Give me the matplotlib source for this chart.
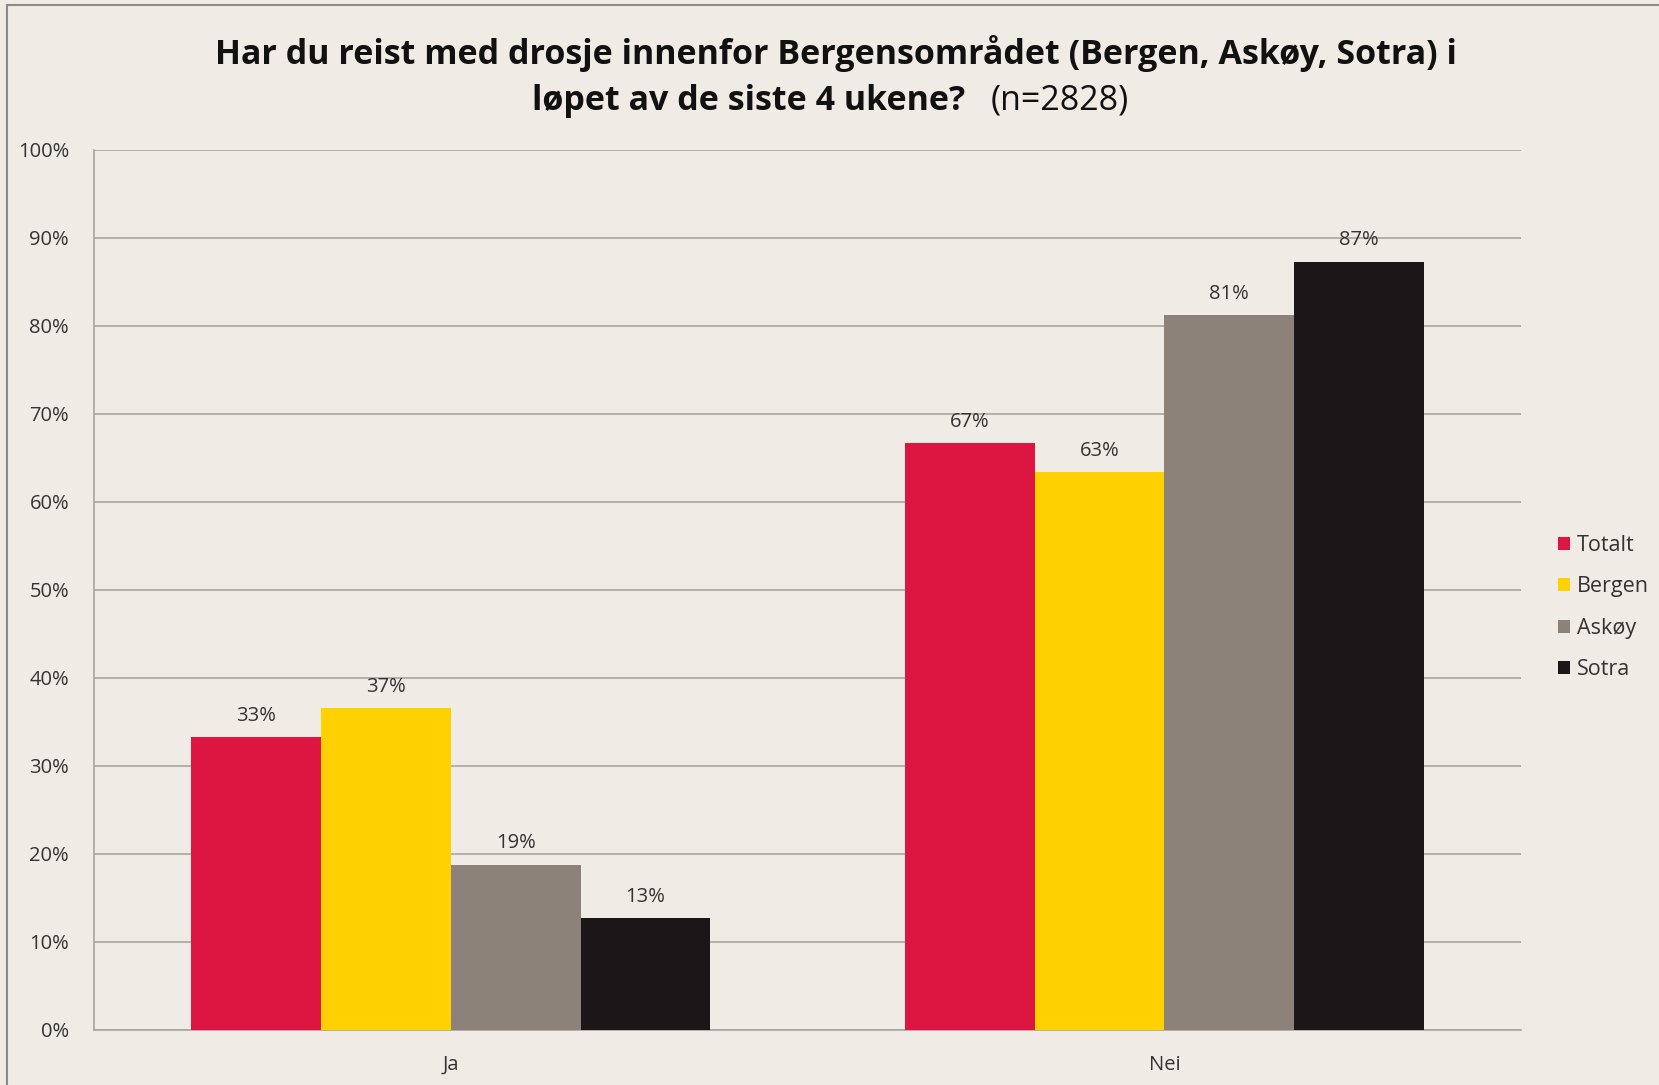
import matplotlib
matplotlib.use("Agg")
import matplotlib.pyplot as plt
import numpy as np
from matplotlib.patches import Rectangle

plt.rcParams["font.family"] = ["Open Sans", "DejaVu Sans"]

# Survey answers, percent of respondents per area
categories = ["Ja", "Nei"]
series_names = ["Totalt", "Bergen", "Askøy", "Sotra"]
totalt = [33.3, 66.7]
bergen = [36.6, 63.4]
askoy = [18.8, 81.2]
sotra = [12.7, 87.3]
series_values = [totalt, bergen, askoy, sotra]
colors = ["#DC1640", "#FFD100", "#8C8279", "#1B1718"]

BG = "#F0EBE4"
GRID = "#A8A6A2"
TEXT = "#333333"

fig = plt.figure(figsize=(16.59, 10.85), dpi=100, facecolor=BG)
ax = fig.add_axes([0.0567, 0.0507, 0.8603, 0.8113], facecolor=BG)

x = np.arange(len(categories))
n = len(series_names)
width = 1 / (n + 1.5)
for i, (name, vals, col) in enumerate(zip(series_names, series_values, colors)):
    pos = x + (i - (n - 1) / 2) * width
    bars = ax.bar(pos, vals, width=width, color=col, label=name, zorder=3)
    for b, v in zip(bars, vals):
        ax.text(b.get_x() + b.get_width() / 2, v + 2.4, f"{v:.0f}%",
                ha="center", va="center", fontsize=14.5, color=TEXT)

ax.set_xlim(-0.5, 1.5)
ax.set_ylim(0, 100)
ax.set_yticks(np.arange(0, 101, 10))
ax.set_yticklabels([f"{t}%" for t in range(0, 101, 10)], fontsize=14.5, color=TEXT)
ax.set_xticks(x)
ax.set_xticklabels(categories, fontsize=14.5, color=TEXT)
ax.tick_params(axis="both", length=0)
ax.tick_params(axis="y", pad=18)
ax.tick_params(axis="x", pad=18)
ax.grid(axis="y", color=GRID, linewidth=1.2, zorder=0)
for side in ["top", "right"]:
    ax.spines[side].set_visible(False)
ax.spines["left"].set_color(GRID)
ax.spines["bottom"].set_color(GRID)
ax.spines["left"].set_linewidth(1.2)
ax.spines["bottom"].set_linewidth(1.2)

fig.text(0.504, 0.951, "Har du reist med drosje innenfor Bergensområdet (Bergen, Askøy, Sotra) i",
         ha="center", va="center", fontsize=24.5, fontweight="bold", color="#111111")
fig.text(0.582, 0.907, "løpet av de siste 4 ukene?", ha="right", va="center",
         fontsize=24.5, fontweight="bold", color="#111111")
fig.text(0.597, 0.907, "(n=2828)", ha="left", va="center",
         fontsize=24.5, color="#111111")

leg = ax.legend(loc="center left", bbox_to_anchor=(1.012, 0.48), frameon=False,
                fontsize=15.5, handlelength=0.55, handleheight=0.55,
                handletextpad=0.35, labelspacing=0.95)
for t in leg.get_texts():
    t.set_color(TEXT)

# outer chart border
fig.patches.append(Rectangle((0.004, -0.01), 1.1, 1.005, transform=fig.transFigure,
                             fill=False, edgecolor="#8A8A8A", linewidth=1.5))

fig.savefig("out.png", dpi=100, facecolor=BG)
